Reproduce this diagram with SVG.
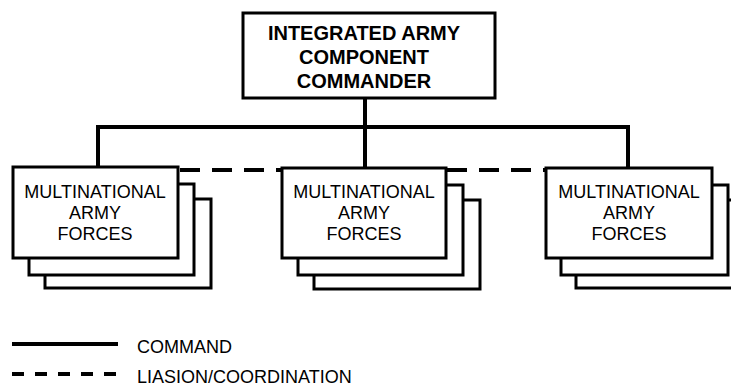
<svg xmlns="http://www.w3.org/2000/svg" width="731" height="386" viewBox="0 0 731 386">
<style>
.box{fill:#fff;stroke:#000;stroke-width:3}
.cmd{fill:none;stroke:#000;stroke-width:4}
.liaison{fill:none;stroke:#000;stroke-width:4;stroke-dasharray:20 12}
.t{font-family:"Liberation Sans",Arial,sans-serif;fill:#000;text-anchor:middle}
.tb{font-size:20px;font-weight:bold}
.tn{font-size:18px}
.lg{font-family:"Liberation Sans",Arial,sans-serif;font-size:18px;fill:#000}
</style>
<rect width="731" height="386" fill="#fff"/>
<g id="connectors">
<line class="cmd" x1="365" y1="98" x2="365" y2="168"/>
<line class="cmd" x1="96" y1="127" x2="630" y2="127"/>
<line class="cmd" x1="98" y1="125" x2="98" y2="167"/>
<line class="cmd" x1="628" y1="125" x2="628" y2="168"/>
<line class="liaison" x1="180" y1="170" x2="283" y2="170"/>
<line class="liaison" x1="447" y1="170" x2="546" y2="170"/>
</g>
<g id="commander">
<rect class="box" x="243" y="13" width="252" height="85"/>
<text class="t tb" x="364" y="40">INTEGRATED ARMY</text>
<text class="t tb" x="364" y="64">COMPONENT</text>
<text class="t tb" x="364" y="88">COMMANDER</text>
</g>
<g id="forces-left">
<rect class="box" x="45" y="199" width="166" height="89"/>
<rect class="box" x="29" y="184" width="165" height="91"/>
<rect class="box" x="13" y="167" width="165" height="91"/>
<text class="t tn" x="95" y="198">MULTINATIONAL</text>
<text class="t tn" x="95" y="219">ARMY</text>
<text class="t tn" x="95" y="240">FORCES</text>
</g>
<g id="forces-middle">
<rect class="box" x="314" y="200" width="166" height="89"/>
<rect class="box" x="298" y="185" width="165" height="90"/>
<rect class="box" x="282" y="168" width="164" height="90"/>
<text class="t tn" x="364" y="198">MULTINATIONAL</text>
<text class="t tn" x="364" y="219">ARMY</text>
<text class="t tn" x="364" y="240">FORCES</text>
</g>
<g id="forces-right">
<rect class="box" x="576" y="200" width="170" height="88"/>
<rect class="box" x="561" y="185" width="167" height="90"/>
<rect class="box" x="546" y="168" width="166" height="90"/>
<text class="t tn" x="629" y="198">MULTINATIONAL</text>
<text class="t tn" x="629" y="219">ARMY</text>
<text class="t tn" x="629" y="240">FORCES</text>
</g>
<g id="legend">
<line class="cmd" x1="12" y1="344" x2="118" y2="344"/>
<text class="lg" x="137" y="353">COMMAND</text>
<line class="cmd" x1="12" y1="374" x2="118" y2="374" style="stroke-dasharray:12 11"/>
<text class="lg" x="137" y="383">LIASION/COORDINATION</text>
</g>
</svg>
